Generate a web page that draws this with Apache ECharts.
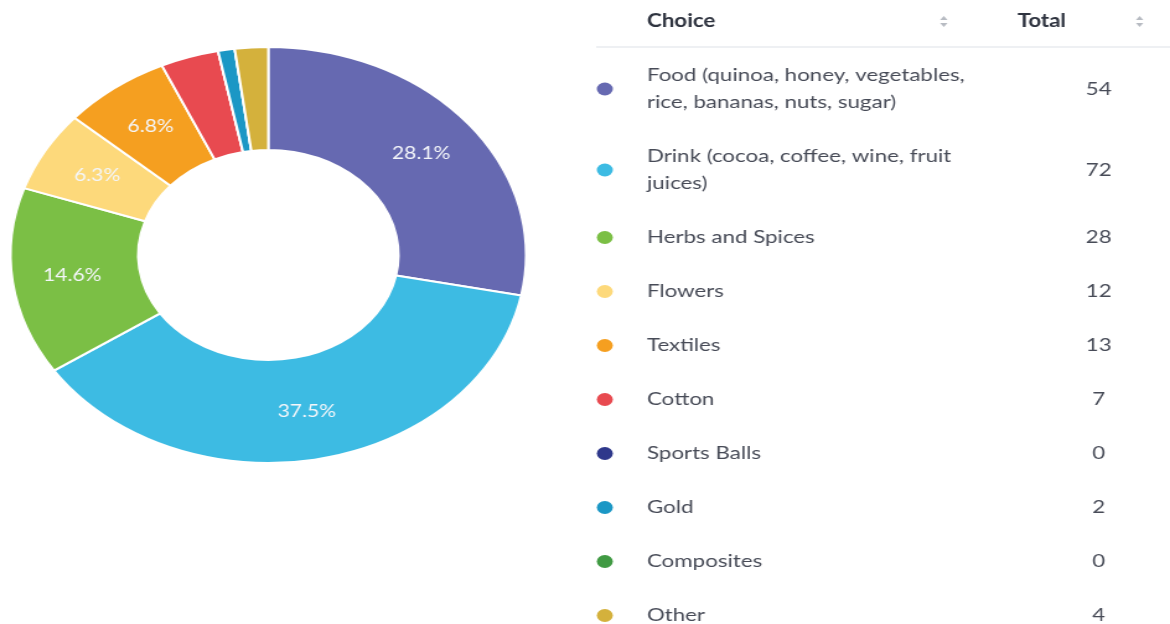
<!DOCTYPE html>
<html>
<head>
<meta charset="utf-8">
<script src="https://cdn.jsdelivr.net/npm/echarts@6/dist/echarts.min.js"></script>
<style>
  html, body { margin: 0; padding: 0; background: #ffffff; overflow: hidden; }
  #wrap { width: 1170px; height: 624px; overflow: hidden; }
  #chart { width: 944px; height: 624px; transform: scaleX(1.2394); transform-origin: 0 0; }
</style>
</head>
<body>
<div id="wrap"><div id="chart"></div></div>
<script>
// ---- data ----
var categories = [
  'Food (quinoa, honey, vegetables, rice, bananas, nuts, sugar)',
  'Drink (cocoa, coffee, wine, fruit juices)',
  'Herbs and Spices',
  'Flowers',
  'Textiles',
  'Cotton',
  'Sports Balls',
  'Gold',
  'Composites',
  'Other'
];
var totals = [54, 72, 28, 12, 13, 7, 0, 2, 0, 4];
var colors = ['#6669b1', '#3dbbe3', '#7bbf45', '#fdd97b', '#f59f20', '#e84a50', '#2e388b', '#1b97c5', '#409a43', '#d4b13c'];
var headers = ['Choice', 'Total'];

// ---- layout helpers ----
var FONT = 'Lato, "Noto Sans", sans-serif';
var textColor = '#474b57';
var headColor = '#2e333f';
var sum = totals.reduce(function (a, b) { return a + b; }, 0);

var ctx = document.createElement('canvas').getContext('2d');
ctx.font = '18px ' + FONT;
function wrap(str, maxW) {
  var words = str.split(' ');
  var lines = [], cur = '';
  words.forEach(function (w) {
    var t = cur ? cur + ' ' + w : w;
    if (ctx.measureText(t).width > maxW && cur) { lines.push(cur); cur = w; }
    else cur = t;
  });
  if (cur) lines.push(cur);
  return lines;
}

var colDot = 488, colText = 522, colTotal = 886.5, colTotalHead = 821;
var sortX = [761.5, 919.5];
var headY = 21;
var lineH = 27;
var graphics = [];

// header
graphics.push({ type: 'text', x: colText, y: headY, style: { text: headers[0], font: 'bold 18px ' + FONT, fill: headColor, verticalAlign: 'middle', align: 'left' } });
graphics.push({ type: 'text', x: colTotalHead, y: headY, style: { text: headers[1], font: 'bold 18px ' + FONT, fill: headColor, verticalAlign: 'middle', align: 'left' } });
sortX.forEach(function (sx) {
  graphics.push({ type: 'polygon', shape: { points: [[sx - 3, headY - 1], [sx + 3, headY - 1], [sx, headY - 5]] }, style: { fill: '#b7bbc2' } });
  graphics.push({ type: 'polygon', shape: { points: [[sx - 3, headY + 2], [sx + 3, headY + 2], [sx, headY + 6]] }, style: { fill: '#b7bbc2' } });
});
graphics.push({ type: 'rect', shape: { x: 481, y: 46, width: 470, height: 2 }, style: { fill: '#eef0f3' } });

var y = 48.5;
categories.forEach(function (c, i) {
  var lines = wrap(c, 282);
  var h = lines.length * lineH + lineH;
  var cy = y + h / 2;
  graphics.push({ type: 'circle', shape: { cx: colDot, cy: cy, r: 6.5 }, style: { fill: colors[i] } });
  graphics.push({ type: 'text', x: colText, y: cy, style: { text: lines.join('\n'), font: '18px ' + FONT, fill: textColor, lineHeight: lineH, verticalAlign: 'middle', align: 'left' } });
  graphics.push({ type: 'text', x: colTotal, y: cy, style: { text: String(totals[i]), font: '18px ' + FONT, fill: textColor, verticalAlign: 'middle', align: 'center' } });
  y += h;
});

var chart = echarts.init(document.getElementById('chart'), null, { renderer: 'canvas' });
chart.setOption({
  animation: false,
  color: colors,
  graphic: graphics,
  series: [{
    type: 'pie',
    center: [216.5, 255],
    radius: [105, 208],
    startAngle: 90,
    clockwise: true,
    avoidLabelOverlap: false,
    itemStyle: { borderColor: '#ffffff', borderWidth: 2 },
    label: {
      show: true,
      position: 'inside',
      color: '#f4f6fa',
      fontFamily: FONT,
      fontSize: 17,
      formatter: function (p) {
        var pct = p.value / sum * 100;
        return pct >= 5 ? pct.toFixed(1) + '%' : '';
      }
    },
    labelLine: { show: false },
    emphasis: { disabled: true },
    data: categories.map(function (c, i) { return { name: c, value: totals[i] }; })
  }]
});
</script>
</body>
</html>
